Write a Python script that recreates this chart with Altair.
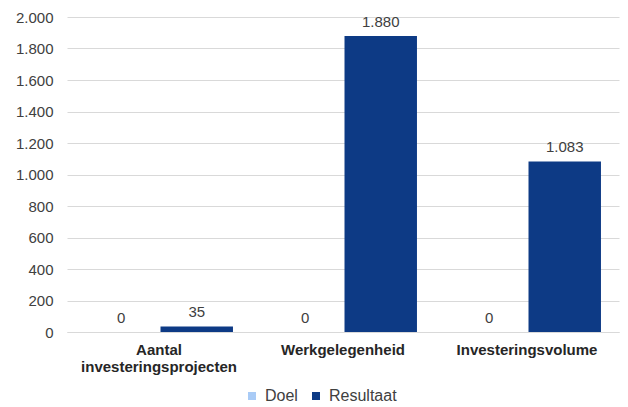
import altair as alt
import pandas as pd

categories = ["Aantal investeringsprojecten", "Werkgelegenheid", "Investeringsvolume"]
series = ["Doel", "Resultaat"]
doel = [0, 0, 0]
resultaat = [35, 1880, 1083]
y_ticks = [0, 200, 400, 600, 800, 1000, 1200, 1400, 1600, 1800, 2000]
colors = ["#A9CBF6", "#0D3A85"]

rows = []
for c, d, r in zip(categories, doel, resultaat):
    rows.append({"categorie": c, "reeks": "Doel", "waarde": d})
    rows.append({"categorie": c, "reeks": "Resultaat", "waarde": r})
df = pd.DataFrame(rows)

FONT = "Liberation Sans"

x = alt.X(
    "categorie:N", sort=categories, title=None,
    scale=alt.Scale(paddingInner=0.196, paddingOuter=0.098),
    axis=alt.Axis(
        labelAngle=0, labelFont=FONT, labelFontWeight="bold", labelFontSize=15,
        labelColor="#262626", labelPadding=10, ticks=False, domainColor="#d9d9d9",
        labelLineHeight=17,
        labelExpr="datum.label == 'Aantal investeringsprojecten' ? ['Aantal', 'investeringsprojecten'] : datum.label",
    ),
)
xo = alt.XOffset("reeks:N", sort=series, scale=alt.Scale(paddingInner=0.04, paddingOuter=0))
y = alt.Y(
    "waarde:Q", title=None,
    scale=alt.Scale(domain=[0, 2000], nice=False),
    axis=alt.Axis(
        values=y_ticks, labelFont=FONT, labelFontSize=15, labelColor="#404040",
        labelPadding=14, ticks=False, domain=False, gridColor="#d9d9d9",
        labelExpr="replace(format(datum.value, ','), ',', '.')",
    ),
)
color = alt.Color(
    "reeks:N", sort=series, title=None,
    scale=alt.Scale(domain=series, range=colors),
    legend=alt.Legend(
        orient="none", legendX=177, legendY=371, direction="horizontal",
        symbolType="square", symbolSize=64, symbolStrokeWidth=0,
        labelFont=FONT, labelFontSize=16, labelColor="#404040",
        labelOffset=5, columnPadding=10, padding=0,
    ),
)

bars = alt.Chart(df).mark_bar().encode(x=x, xOffset=xo, y=y, color=color)
text = alt.Chart(df).transform_calculate(
    label="replace(format(datum.waarde, ','), ',', '.')"
).mark_text(dy=-9, baseline="alphabetic", fontSize=15, font=FONT, color="#404040").encode(
    x=x, xOffset=xo, y=y, text="label:N"
)

chart = alt.layer(bars, text).properties(
    width=552, height=315,
    autosize=alt.AutoSizeParams(type="none"),
    padding={"left": 59, "top": 9, "right": 1, "bottom": 74},
    background="white",
).configure_view(stroke=None)

chart.save("out.html", embed_options={"renderer": "svg", "actions": False})
